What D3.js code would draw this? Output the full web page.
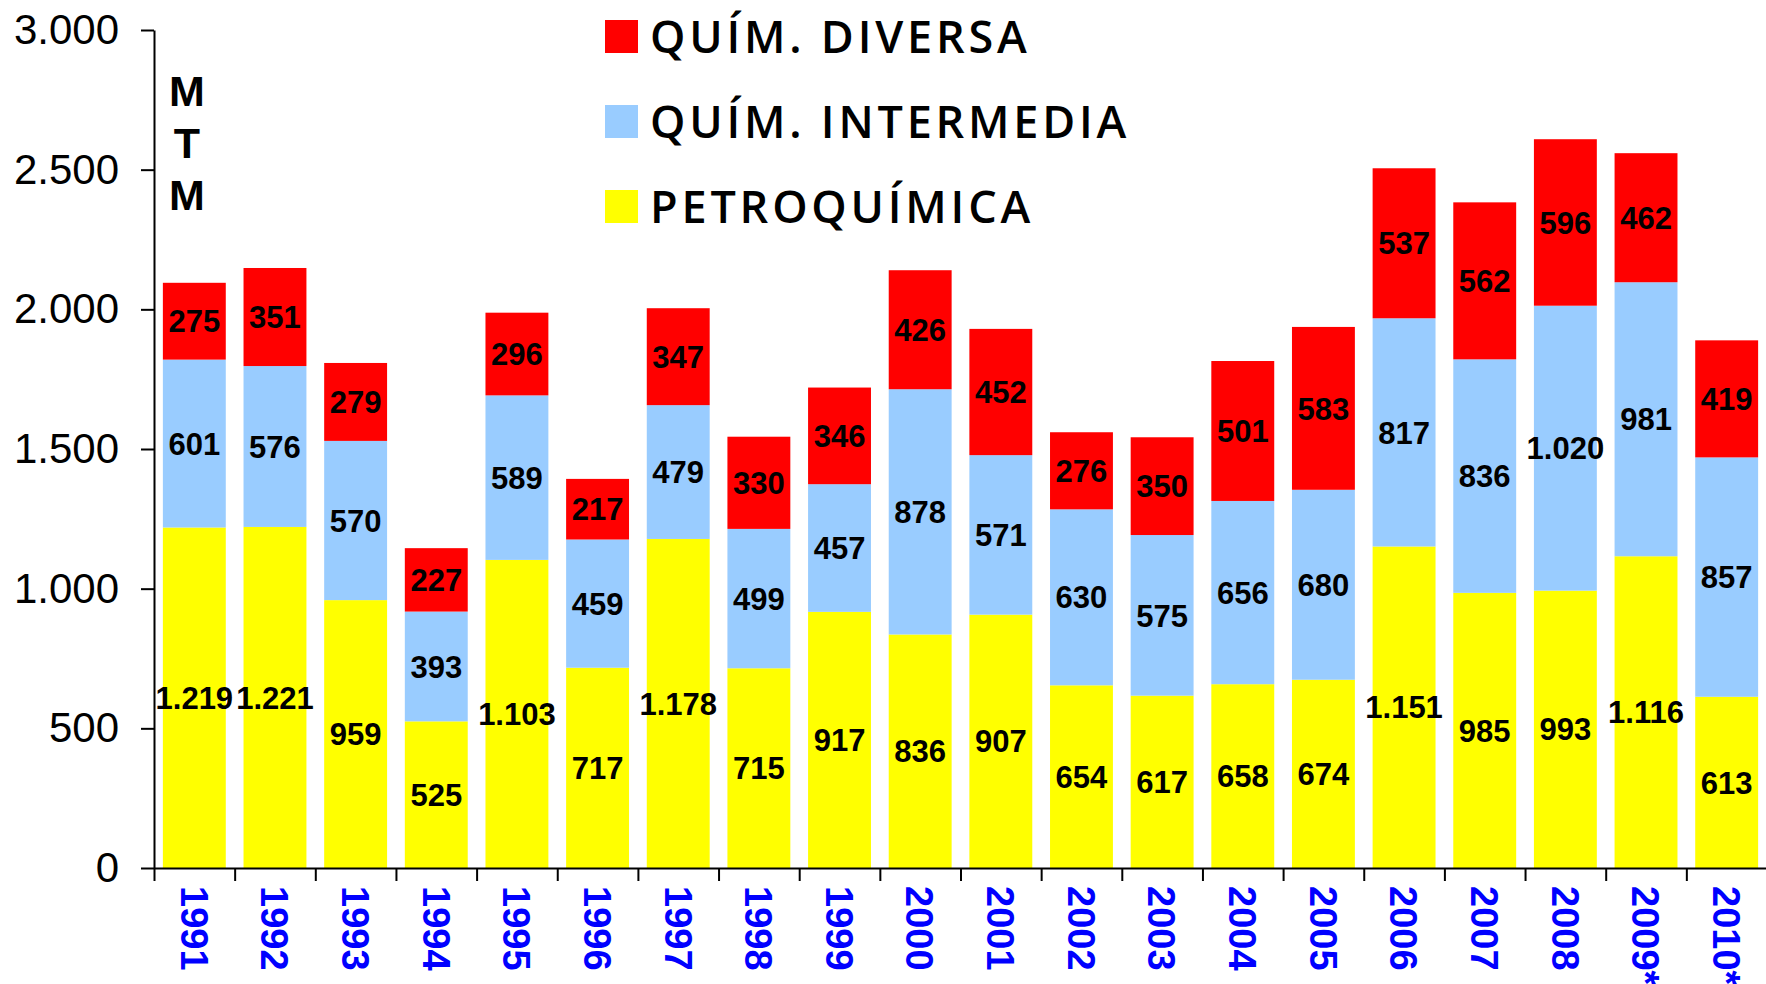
<!DOCTYPE html>
<html>
<head>
<meta charset="utf-8">
<script src="https://cdn.jsdelivr.net/npm/d3@7"></script>
<style>
  body { margin: 0; background: #fff; }
  svg { display: block; }
</style>
</head>
<body>
<div class="container"></div>
<script>
// data (MTM)
var years = ['1991', '1992', '1993', '1994', '1995', '1996', '1997', '1998', '1999', '2000',
    '2001', '2002', '2003', '2004', '2005', '2006', '2007', '2008', '2009*', '2010*'];
var petroquimica = [1219, 1221, 959, 525, 1103, 717, 1178, 715, 917, 836,
    907, 654, 617, 658, 674, 1151, 985, 993, 1116, 613];
var intermedia = [601, 576, 570, 393, 589, 459, 479, 499, 457, 878,
    571, 630, 575, 656, 680, 817, 836, 1020, 981, 857];
var diversa = [275, 351, 279, 227, 296, 217, 347, 330, 346, 426,
    452, 276, 350, 501, 583, 537, 562, 596, 462, 419];
var yTicks = [0, 500, 1000, 1500, 2000, 2500, 3000];
var seriesNames = ['PETROQUÍMICA', 'QUÍM. INTERMEDIA', 'QUÍM. DIVERSA'];
var seriesColors = ['#FFFF00', '#99CCFF', '#FF0000'];

const WIDTH = 1766;
const HEIGHT = 984;
const X0 = 154;
const X1 = 1767;
const Y0 = 868;
const Y1 = 30;

var es = d3.formatLocale({decimal: ',', thousands: '.', grouping: [3], currency: ['', '€']});
var fmt = es.format(',d');

var svg = d3.select('.container').append('svg')
    .attr('width', WIDTH)
    .attr('height', HEIGHT);

var table = years.map(function (y, i) {
    return {year: y, p: petroquimica[i], i: intermedia[i], d: diversa[i]};
});
var stack = d3.stack().keys(['p', 'i', 'd'])(table);

var xScale = d3.scaleBand()
    .domain(years)
    .range([X0, X1])
    .paddingInner(0.22)
    .paddingOuter(0.11);

var yScale = d3.scaleLinear()
    .domain([0, 3000])
    .range([Y0, Y1]);

// bars
var layers = svg.append('g').selectAll('g').data(stack)
    .enter().append('g')
    .attr('fill', function (s, k) { return seriesColors[k]; });

layers.selectAll('rect').data(function (s) { return s; })
    .enter().append('rect')
    .attr('x', function (d) { return xScale(d.data.year); })
    .attr('width', xScale.bandwidth())
    .attr('y', function (d) { return yScale(d[1]); })
    .attr('height', function (d) { return yScale(d[0]) - yScale(d[1]); });

// value labels
layers.selectAll('text').data(function (s) { return s; })
    .enter().append('text')
    .attr('x', function (d) { return xScale(d.data.year) + xScale.bandwidth() / 2; })
    .attr('y', function (d) { return yScale((d[0] + d[1]) / 2); })
    .attr('dy', '0.36em')
    .attr('text-anchor', 'middle')
    .attr('fill', '#000')
    .style('font-family', '"Liberation Sans", Arial, sans-serif')
    .style('font-weight', 'bold')
    .style('font-size', '31px')
    .text(function (d) { return fmt(d[1] - d[0]); });

// y axis
var yAxis = d3.axisLeft(yScale)
    .tickValues(yTicks)
    .tickFormat(fmt)
    .tickSize(13)
    .tickSizeOuter(0)
    .tickPadding(22);

var gy = svg.append('g')
    .attr('transform', 'translate(' + X0 + ',0)')
    .call(yAxis);
gy.selectAll('line, path').attr('stroke', '#000').attr('stroke-width', 2);
gy.selectAll('text')
    .attr('fill', '#000')
    .style('font-family', '"Liberation Sans", Arial, sans-serif')
    .style('font-size', '42px');

// x axis: boundary ticks
var edge = d3.scaleLinear().domain([0, years.length]).range([X0, X0 + xScale.step() * years.length]);
var gxTicks = svg.append('g')
    .attr('transform', 'translate(0,' + Y0 + ')')
    .call(d3.axisBottom(edge).tickValues(d3.range(years.length + 1)).tickFormat('').tickSize(13).tickSizeOuter(0));
gxTicks.selectAll('line, path').attr('stroke', '#000').attr('stroke-width', 2);

// x axis: rotated year labels
var gx = svg.append('g')
    .attr('transform', 'translate(0,' + Y0 + ')')
    .call(d3.axisBottom(xScale).tickSize(0));
gx.select('.domain').remove();
gx.selectAll('text')
    .attr('transform', 'rotate(90)')
    .attr('x', 18)
    .attr('y', 0)
    .attr('dy', '0.36em')
    .style('text-anchor', 'start')
    .attr('fill', '#0000FF')
    .style('font-family', '"Liberation Sans", Arial, sans-serif')
    .style('font-weight', 'bold')
    .style('font-size', '38px');

// unit label, stacked letters
svg.append('g').selectAll('text').data(['M', 'T', 'M'])
    .enter().append('text')
    .attr('x', 187)
    .attr('y', function (d, i) { return 106 + i * 52; })
    .attr('text-anchor', 'middle')
    .style('font-family', '"Liberation Sans", Arial, sans-serif')
    .style('font-weight', 'bold')
    .style('font-size', '43px')
    .text(function (d) { return d; });

// legend (top item is the top segment)
var legend = svg.append('g').selectAll('g').data([2, 1, 0])
    .enter().append('g')
    .attr('transform', function (k, i) { return 'translate(605,' + (20 + i * 85) + ')'; });

legend.append('rect')
    .attr('width', 33)
    .attr('height', 33)
    .attr('fill', function (k) { return seriesColors[k]; });

legend.append('text')
    .attr('x', 45)
    .attr('y', 33)
    .style('font-family', '"Open Sans", "DejaVu Sans", sans-serif')
    .style('font-weight', '600')
    .style('font-size', '45px')
    .style('letter-spacing', '3.8px')
    .text(function (k) { return seriesNames[k]; });
</script>
</body>
</html>
